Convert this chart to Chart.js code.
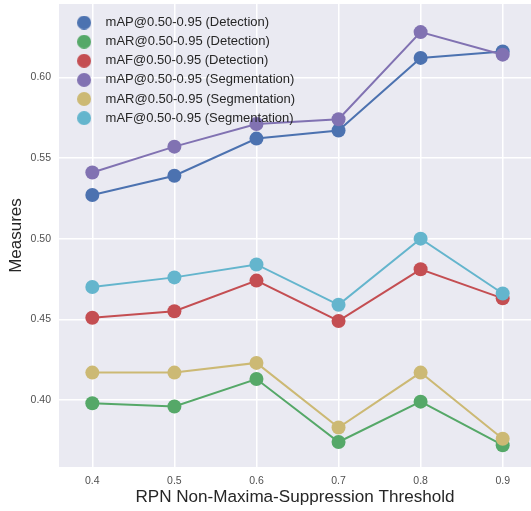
<!DOCTYPE html>
<html>
<head>
<meta charset="utf-8">
<script src="https://cdn.jsdelivr.net/npm/chart.js@4/dist/chart.umd.min.js"></script>
<style>
  html, body { margin: 0; padding: 0; background: #ffffff; }
  #wrap { width: 531px; height: 511px; }
</style>
</head>
<body>
<div id="wrap"><canvas id="chart" width="531" height="511"></canvas></div>
<script>
// RPN NMS threshold sweep
const thresholds = [0.4, 0.5, 0.6, 0.7, 0.8, 0.9];

const mapDetection    = [0.527, 0.539, 0.562, 0.567, 0.612, 0.616];
const marDetection    = [0.398, 0.396, 0.413, 0.374, 0.399, 0.372];
const mafDetection    = [0.451, 0.455, 0.474, 0.449, 0.481, 0.463];
const mapSegmentation = [0.541, 0.557, 0.571, 0.574, 0.628, 0.614];
const marSegmentation = [0.417, 0.417, 0.423, 0.383, 0.417, 0.376];
const mafSegmentation = [0.470, 0.476, 0.484, 0.459, 0.500, 0.466];

const seriesNames = [
  'mAP@0.50-0.95 (Detection)',
  'mAR@0.50-0.95 (Detection)',
  'mAF@0.50-0.95 (Detection)',
  'mAP@0.50-0.95 (Segmentation)',
  'mAR@0.50-0.95 (Segmentation)',
  'mAF@0.50-0.95 (Segmentation)'
];
const seriesValues = [mapDetection, marDetection, mafDetection, mapSegmentation, marSegmentation, mafSegmentation];
const seriesColors = ['#4C72B0', '#55A868', '#C44E52', '#8172B2', '#CCB974', '#64B5CD'];

const xTicks = [0.4, 0.5, 0.6, 0.7, 0.8, 0.9];
const yTicks = [0.40, 0.45, 0.50, 0.55, 0.60];

const FONT = '"Liberation Sans", Arial, "DejaVu Sans", sans-serif';

// small round swatches for the legend
function makeDot(color, d) {
  const c = document.createElement('canvas');
  c.width = d; c.height = d;
  const g = c.getContext('2d');
  g.fillStyle = color;
  g.beginPath();
  g.arc(d / 2, d / 2, d / 2, 0, Math.PI * 2);
  g.fill();
  return c;
}
const dots = seriesColors.map(c => makeDot(c, 14));

const datasets = seriesNames.map((name, i) => ({
  label: name,
  data: thresholds.map((t, j) => ({ x: t, y: seriesValues[i][j] })),
  borderColor: seriesColors[i],
  backgroundColor: seriesColors[i],
  pointBackgroundColor: seriesColors[i],
  pointBorderColor: seriesColors[i],
  pointBorderWidth: 0,
  pointRadius: 7,
  borderWidth: 2,
  tension: 0,
  fill: false,
  // later series sit on top
  order: seriesNames.length - i
}));

// plot background
const plotBackground = {
  id: 'plotBackground',
  beforeDraw(chart) {
    const { ctx, chartArea: a } = chart;
    ctx.save();
    ctx.fillStyle = '#EAEAF2';
    ctx.fillRect(a.left, a.top, a.right - a.left, a.bottom - a.top);
    ctx.restore();
  }
};

// legend sits inside the plot, above the lines
const legendPlacement = {
  id: 'legendPlacement',
  beforeLayout(chart) {
    const lg = chart.legend;
    if (lg) {
      lg._layers = () => [{ z: 1, draw: (area) => lg.draw(area) }];
    }
  },
  afterLayout(chart) {
    const lg = chart.legend;
    if (lg) {
      lg.left = chart.chartArea.left + 4;
      lg.top = 10;
    }
  }
};

// axes keep fixed sizes and add no extra edge padding
function noEdgePadding(scale) {
  scale.paddingTop = 0;
  scale.paddingBottom = 0;
  scale.paddingLeft = 0;
  scale.paddingRight = 0;
}

new Chart(document.getElementById('chart'), {
  type: 'line',
  data: { datasets },
  plugins: [plotBackground, legendPlacement],
  options: {
    responsive: false,
    animation: false,
    events: [],
    layout: { autoPadding: false, padding: { top: 4, right: 0, bottom: 0, left: 0 } },
    plugins: {
      tooltip: { enabled: false },
      legend: {
        position: 'chartArea',
        align: 'start',
        labels: {
          usePointStyle: true,
          pointStyleWidth: 30,
          padding: 6.1,
          color: '#262626',
          font: { family: FONT, size: 13 },
          sort: (a, b) => a.datasetIndex - b.datasetIndex,
          generateLabels(chart) {
            const items = Chart.defaults.plugins.legend.labels.generateLabels(chart);
            items.forEach(it => { it.pointStyle = dots[it.datasetIndex]; });
            return items;
          }
        }
      }
    },
    scales: {
      x: {
        type: 'linear',
        min: 0.3594,
        max: 0.9345,
        afterBuildTicks(scale) { scale.ticks = xTicks.map(v => ({ value: v })); },
        afterFit(scale) { scale.height = 44; noEdgePadding(scale); },
        grid: { color: '#ffffff', lineWidth: 1.5, drawTicks: false },
        border: { display: false },
        ticks: {
          padding: 8,
          color: '#505050',
          font: { family: FONT, size: 10.5 },
          callback: v => Number(v).toFixed(1)
        },
        title: {
          display: true,
          text: 'RPN Non-Maxima-Suppression Threshold',
          color: '#262626',
          font: { family: FONT, size: 17.1 },
          padding: { top: 0, bottom: 3.5 }
        }
      },
      y: {
        type: 'linear',
        min: 0.3585,
        max: 0.6454,
        afterBuildTicks(scale) { scale.ticks = yTicks.map(v => ({ value: v })); },
        afterFit(scale) { scale.width = 59; noEdgePadding(scale); },
        grid: { color: '#ffffff', lineWidth: 1.5, drawTicks: false },
        border: { display: false },
        ticks: {
          padding: 8,
          color: '#505050',
          font: { family: FONT, size: 10.5 },
          callback: v => Number(v).toFixed(2)
        },
        title: {
          display: true,
          text: 'Measures',
          color: '#262626',
          font: { family: FONT, size: 17 },
          padding: { top: 5.8, bottom: 0 }
        }
      }
    }
  }
});
</script>
</body>
</html>
